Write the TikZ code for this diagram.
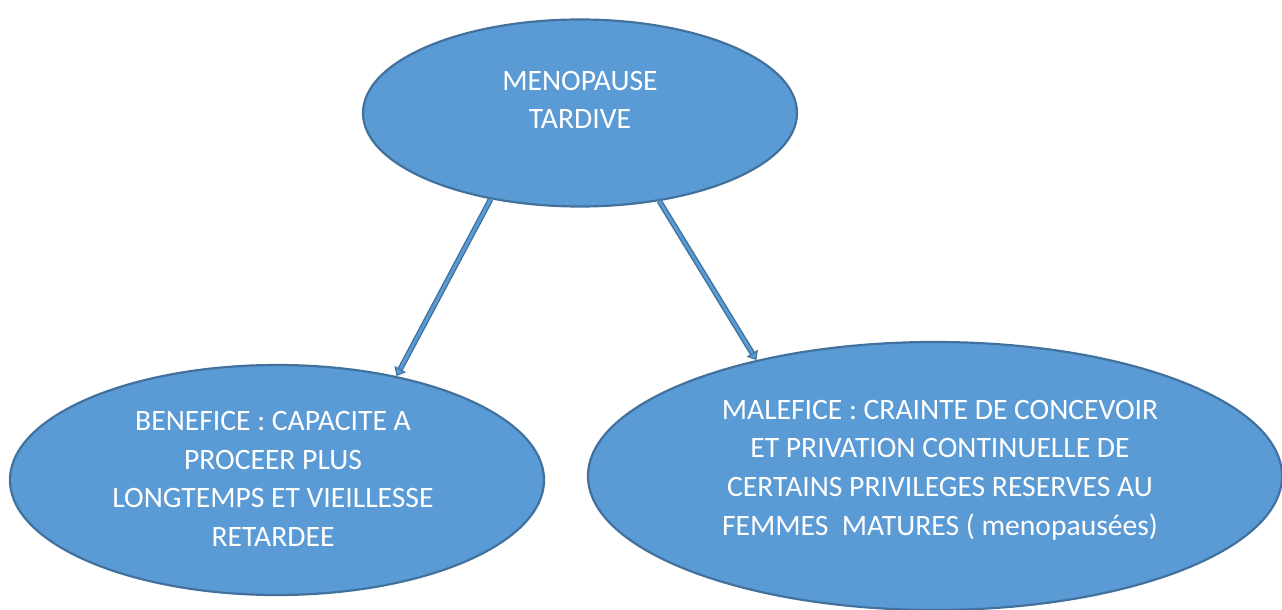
\documentclass[tikz,border=0pt]{standalone}
\usepackage{fontspec}
\setmainfont{Carlito}
\usetikzlibrary{shapes.geometric,arrows.meta}
\definecolor{bubblefill}{HTML}{5B9BD5}
\definecolor{bubbleline}{HTML}{41719C}
\begin{document}
\begin{tikzpicture}[x=1pt,y=-1pt,
  bubble/.style={ellipse,fill=bubblefill,draw=bubbleline,line width=2.2pt,inner sep=0pt},
  caption/.style={text=white,align=center,font=\fontsize{29.6}{38.6}\selectfont,inner sep=0pt},
  link/.style={draw=bubbleline,line width=1.4pt,double=bubblefill,double distance=2.8pt,
    -{Triangle[length=8pt,width=13pt,fill=bubblefill,line width=1.2pt]}}]
  \useasboundingbox (0,0) rectangle (1282,610);
  % ellipses
  \node[bubble,minimum width=434pt,minimum height=187pt] (top) at (580,113) {};
  \node[bubble,minimum width=534pt,minimum height=230pt] (left) at (277,480) {};
  \node[bubble,minimum width=694pt,minimum height=268pt] (right) at (935,476) {};
  % texts
  \node[caption] (toptext) at (580,100) {MENOPAUSE\\TARDIVE};
  \node[caption] (lefttext) at (273,479) {BENEFICE : CAPACITE A\\PROCEER PLUS\\LONGTEMPS ET VIEILLESSE\\RETARDEE};
  \node[caption] (righttext) at (940,470) {MALEFICE : CRAINTE DE CONCEVOIR\\ET PRIVATION CONTINUELLE DE\\CERTAINS PRIVILEGES RESERVES AU\\FEMMES\ \ MATURES ( menopausées)};
  % connectors
  \draw[link] (top.224) -- (left.41);
  \draw[link] (top.312) -- (right.147);
\end{tikzpicture}
\end{document}
